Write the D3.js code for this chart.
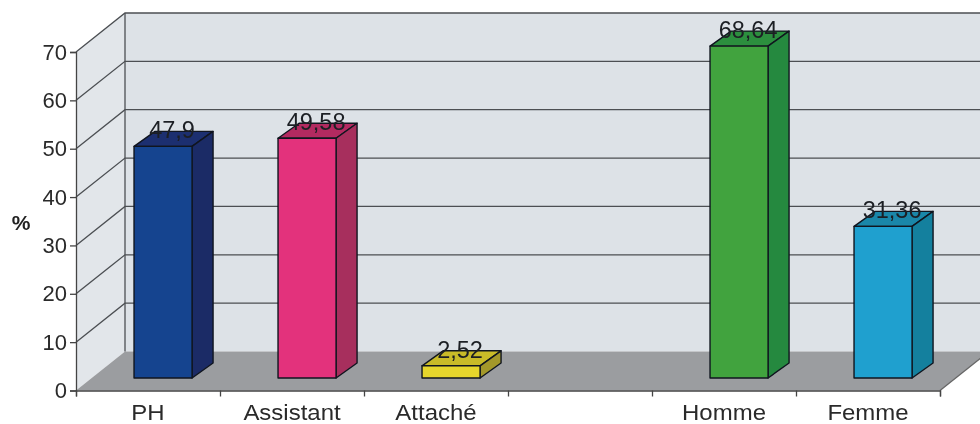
<!DOCTYPE html>
<html><head><meta charset="utf-8">
<script src="https://cdn.jsdelivr.net/npm/d3@7/dist/d3.min.js"></script>
<style>html,body{margin:0;background:#fff}svg{display:block}text{font-family:"Liberation Sans",Arial,sans-serif}</style>
</head><body><svg id="c" width="980" height="424"></svg>
<script>
const categories = ["PH","Assistant","Attaché","","Homme","Femme"];
const values = [47.9,49.58,2.52,null,68.64,31.36];
const labels = ["47,9","49,58","2,52","","68,64","31,36"];
const frontColors = ["#15448f","#e3327c","#e6d62c",null,"#41a33e","#1fa0cf"];
const sideColors = ["#1b2b66","#a72f5d","#a3982a",null,"#25893f","#14809e"];
const topColors = ["#1c2f70","#b32a60","#c9bb28",null,"#2c8f3e","#1a87a9"];
const yTicks = [0,10,20,30,40,50,60,70];

const W=980,H=424;
const L=76,R=940,Y0=390.5,Y70=52;
const wallDx=49,wallDy=-39;
const barDx=21,barDy=-15;
const barBase=378;

const svg=d3.select("#c");
const x=d3.scaleBand().domain(categories.map((d,i)=>i)).range([L,R]);
const y=d3.scaleLinear().domain([0,70]).range([Y0,Y70]);
const yBar=d3.scaleLinear().domain([0,70]).range([barBase,barBase-(Y0-Y70)]);
const line=d3.line();
const lineCol="#4c4f53";

const soft=svg.append("g").style("filter","blur(0.5px)");
soft.append("path").attr("d",line([[L+wallDx,y(70)+wallDy],[W,y(70)+wallDy],[W,y(0)+wallDy],[L+wallDx,y(0)+wallDy]])+"Z").attr("fill","#dde2e7");
soft.append("path").attr("d",line([[L,y(70)],[L+wallDx,y(70)+wallDy],[L+wallDx,y(0)+wallDy],[L,y(0)]])+"Z").attr("fill","#e2e6ea");
soft.append("path").attr("d",line([[L,y(0)],[L+wallDx,y(0)+wallDy],[R+wallDx,y(0)+wallDy],[R,y(0)]])+"Z").attr("fill","#9b9da0");
yTicks.forEach(t=>{
  if(t>0) soft.append("path").attr("d",line([[L,y(t)],[L+wallDx,y(t)+wallDy],[W,y(t)+wallDy]])).attr("fill","none").attr("stroke",lineCol).attr("stroke-width",1.3);
});
soft.append("path").attr("d",line([[L+wallDx,y(70)+wallDy],[L+wallDx,y(0)+wallDy]])).attr("stroke",lineCol).attr("stroke-width",1.3);
soft.append("path").attr("d",line([[R,y(0)],[R+wallDx,y(0)+wallDy]])).attr("stroke","#666").attr("stroke-width",1.3);

const yAxis=d3.axisLeft(y).tickValues(yTicks).tickSize(6).tickPadding(3);
const ga=soft.append("g").attr("transform",`translate(${L},0)`).call(yAxis);
ga.selectAll("text").attr("font-size",22).attr("fill","#2a2a2a").style("font-family",'"Liberation Sans",Arial,sans-serif');
ga.selectAll("line,path").attr("stroke","#444").attr("stroke-width",1.3);

const xEdge=d3.scaleLinear().domain([0,categories.length]).range([L,R]);
const xa=soft.append("g").attr("transform",`translate(0,${y(0)})`).call(d3.axisBottom(xEdge).tickValues(d3.range(categories.length+1)).tickSize(6).tickFormat(""));
xa.selectAll("line,path").attr("stroke","#444").attr("stroke-width",1.3);

const stretch=1.09;
soft.selectAll(".cat").data(categories).join("text").attr("class","cat")
  .attr("transform",(d,i)=>`translate(${x(i)+x.bandwidth()/2},419.5) scale(${stretch},1)`)
  .attr("text-anchor","middle").attr("font-size",22).attr("fill","#2a2a2a").text(d=>d);

soft.append("text").attr("x",21).attr("y",230).attr("text-anchor","middle").attr("font-size",21).attr("font-weight","bold").attr("fill","#222").text("%");

const bw=x.bandwidth()*0.403;
const offs=x.bandwidth()*0.403;
values.forEach((v,i)=>{
  if(v==null) return;
  const a=x(i)+offs,b=a+bw,t=yBar(v),base=yBar(0);
  const g=soft.append("g").attr("stroke","#10151f").attr("stroke-width",1.4).attr("stroke-linejoin","round");
  g.append("path").attr("d",line([[a,t],[a+barDx,t+barDy],[b+barDx,t+barDy],[b,t]])+"Z").attr("fill",topColors[i]);
  g.append("path").attr("d",line([[b,t],[b+barDx,t+barDy],[b+barDx,base+barDy],[b,base]])+"Z").attr("fill",sideColors[i]);
  g.append("rect").attr("x",a).attr("y",t).attr("width",bw).attr("height",base-t).attr("fill",frontColors[i]);
  soft.append("text").attr("x",(a+b)/2+9).attr("y",t-8).attr("text-anchor","middle").attr("font-size",23.5).attr("fill","#1c1f24").text(labels[i]);
});
</script></body></html>
